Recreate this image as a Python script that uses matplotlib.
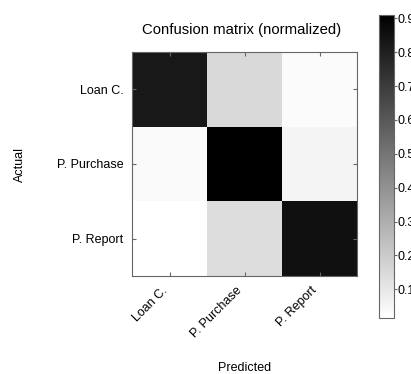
import matplotlib
matplotlib.use("Agg")
import matplotlib.pyplot as plt
import numpy as np

plt.rcParams['font.family'] = ['Liberation Sans', 'DejaVu Sans']

classes = ["Loan C.", "P. Purchase", "P. Report"]
row_loan = [0.82, 0.15, 0.03]
row_purchase = [0.035, 0.91, 0.055]
row_report = [0.015, 0.135, 0.85]
cm = np.array([row_loan, row_purchase, row_report])

fig = plt.figure(figsize=(4.11, 3.74), dpi=100)
ax = fig.add_axes([132 / 411, 1 - 276 / 374, 225 / 411, 224 / 374])
cax = fig.add_axes([379 / 411, 1 - 318 / 374, 15 / 411, 303 / 374])

im = ax.imshow(cm, cmap='binary', interpolation='nearest', aspect='auto')
ax.set_title("Confusion matrix (normalized)", fontsize=10.7, pad=13, x=0.485)

ticks = np.arange(len(classes))
ax.set_xticks(ticks)
ax.set_xticklabels(classes, rotation=45, ha='right', fontsize=9)
ax.set_yticks(ticks)
ax.set_yticklabels(classes, fontsize=9)
ax.tick_params(direction='in', length=3, top=True, right=True,
               color='#666666', pad=6)
for sp in ax.spines.values():
    sp.set_color('#666666')

ax.set_xlabel("Predicted", fontsize=9, labelpad=16)
ax.set_ylabel("Actual", fontsize=9, labelpad=22.5)

cb = fig.colorbar(im, cax=cax)
cb.set_ticks([0.1, 0.2, 0.3, 0.4, 0.5, 0.6, 0.7, 0.8, 0.9])
cb.ax.tick_params(labelsize=9, length=2, color='#666666', pad=0.5)
cb.outline.set_edgecolor('#666666')

fig.savefig("out.png", dpi=100)
